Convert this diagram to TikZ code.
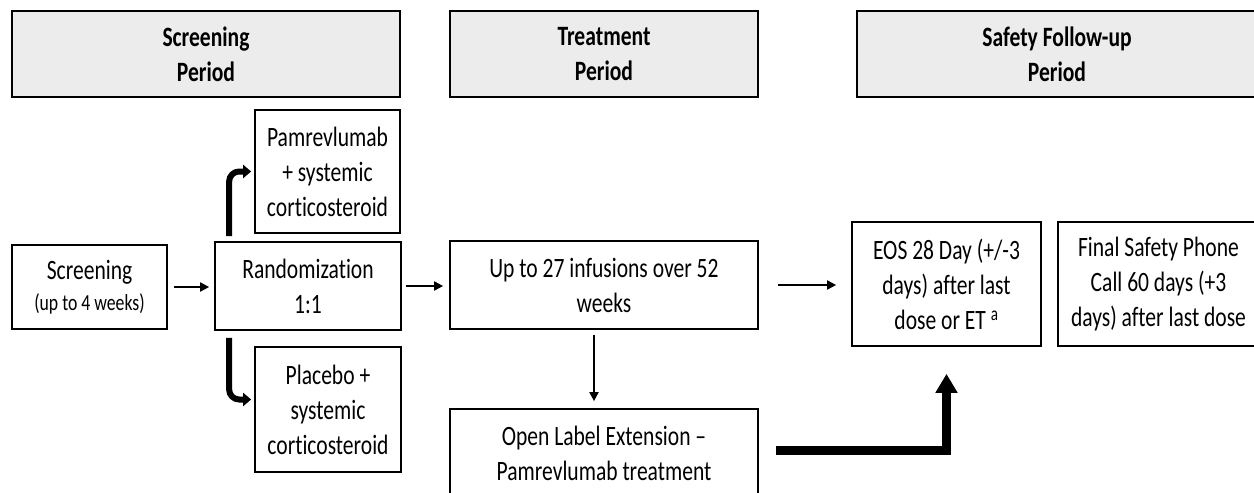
\documentclass[tikz,border=0pt]{standalone}
\usepackage{fontspec}
\setmainfont{Carlito}[FakeStretch=0.77, Ligatures=NoCommon]
\usetikzlibrary{arrows.meta}
\def\mhdrcolor{gray!15}
\def\mtextsize{\fontsize{28}{35}\selectfont}
\tikzset{
	hdr/.style={draw, line width=2pt, fill=\mhdrcolor, font=\bfseries\mtextsize, align=center, minimum height=86pt, inner sep=0pt},
	box/.style={draw, line width=1.7pt, fill=white, font=\mtextsize, align=center, inner sep=0pt},
	arr/.style={line width=1.8pt, -{Triangle[length=9pt, width=9pt]}},
	bentarr/.style={line width=6pt, rounded corners=10pt, -{Triangle[length=8pt, width=13pt]}},
	bigarr/.style={line width=9pt, -{Triangle[length=19pt, width=21pt]}}
}

\begin{document}
\begin{tikzpicture}[x=1pt, y=-1pt]
		\useasboundingbox (0,0) rectangle (1254,493);
		% Period headers
		\node[hdr, minimum width=388pt] (hdrscr) at (206,54) {Screening\\Period};
		\node[hdr, minimum width=308pt] (hdrtrt) at (604,54) {Treatment\\Period};
		\node[hdr, minimum width=400pt] (hdrfu) at (1057,54) {Safety Follow-up\\Period};
		% Screening and randomization
		\node[box, minimum width=155pt, minimum height=84pt] (scr) at (89.5,287) {Screening\\[-4pt]{\fontsize{23}{30}\selectfont (up to 4 weeks)}};
		\node[box, minimum width=186pt, minimum height=88pt] (rand) at (308,286) {Randomization\\1:1};
		\node[box, minimum width=145pt, minimum height=123pt] (pam) at (327.5,171.5) {Pamrevlumab\\+ systemic\\corticosteroid};
		\node[box, minimum width=146pt, minimum height=125pt] (plc) at (328,409.5) {Placebo +\\systemic\\corticosteroid};
		% Treatment
		\node[box, minimum width=308pt, minimum height=88pt] (trt) at (604,285) {Up to 27 infusions over 52\\weeks};
		\node[box, minimum width=308pt, minimum height=88pt] (ole) at (604,453) {Open Label Extension --\\Pamrevlumab treatment};
		% Follow-up
		\node[box, minimum width=189pt, minimum height=124pt] (eos) at (946.5,284) {EOS 28 Day (+/-3\\days) after last\\dose or ET \textsuperscript{a}};
		\node[box, minimum width=201pt, minimum height=124pt] (fin) at (1158.5,284) {Final Safety Phone\\Call 60 days (+3\\days) after last dose};
		% Connectors
		\draw[arr, shorten <=6pt, shorten >=5pt] (scr.east) -- (scr.east -| rand.west);
		\draw[arr, shorten <=4pt, shorten >=6pt] (rand.east) -- (rand.east -| trt.west);
		\draw[arr, shorten <=19pt, shorten >=15pt] (trt.east) -- (trt.east -| eos.west);
		\draw[arr, shorten <=5pt, shorten >=7pt] ([xshift=-10pt]trt.south) -- ([xshift=-10pt]ole.north);
		\draw[bentarr, shorten >=3pt] ([xshift=15pt,yshift=5pt]rand.north west) |- (pam.west);
		\draw[bentarr, shorten >=3pt] ([xshift=15pt,yshift=-7pt]rand.south west) |- ([yshift=10pt]plc.west);
		\draw[bigarr] ([xshift=17pt,yshift=3pt]ole.east) -| ([yshift=-27pt]eos.south);
	\end{tikzpicture}
\end{document}
